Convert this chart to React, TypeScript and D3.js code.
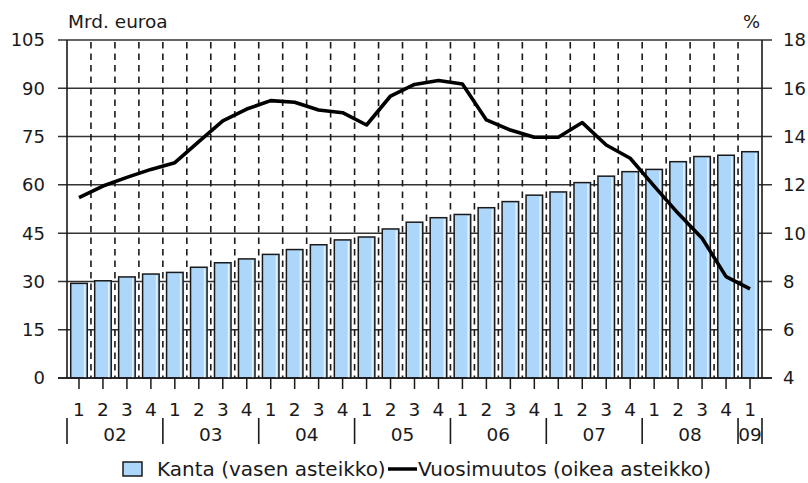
import React from "react";
import * as d3 from "d3";

const quarters = [
  "1","2","3","4","1","2","3","4","1","2","3","4","1","2","3","4",
  "1","2","3","4","1","2","3","4","1","2","3","4","1",
];
const years = ["02","03","04","05","06","07","08","09"];
const yearQuarterCounts = [4,4,4,4,4,4,4,1];

// Kanta, Mrd. euroa (left scale)
const kanta = [
  29.4, 30.2, 31.4, 32.3, 32.8, 34.4, 35.8, 37.0,
  38.4, 39.9, 41.4, 42.9, 43.8, 46.3, 48.4, 49.8,
  50.8, 52.9, 54.8, 56.8, 57.8, 60.7, 62.7, 64.1,
  64.8, 67.2, 68.8, 69.2, 70.3,
];
// Vuosimuutos, % (right scale)
const vuosimuutos = [
  11.47, 11.95, 12.31, 12.64, 12.92, 13.79, 14.65, 15.14,
  15.49, 15.42, 15.10, 14.99, 14.48, 15.68, 16.16, 16.32,
  16.18, 14.69, 14.27, 13.97, 13.97, 14.58, 13.65, 13.10,
  11.95, 10.82, 9.79, 8.20, 7.69,
];
const leftTicks = [0, 15, 30, 45, 60, 75, 90, 105];
const rightTicks = [4, 6, 8, 10, 12, 14, 16, 18];

const W = 808;
const H = 483;
const X0 = 67;
const X1 = 762;
const Y0 = 378;
const Y1 = 40;
const FONT = "DejaVu Sans, sans-serif";
const INK = "#1a1a1a";

export default function App() {
  const idx = kanta.map((_, i) => i);
  const x = d3.scaleBand<number>().domain(idx).range([X0, X1]).paddingInner(0.31).paddingOuter(0.155);
  const step = x.step();
  const yL = d3.scaleLinear().domain([0, 105]).range([Y0, Y1]);
  const yR = d3.scaleLinear().domain([4, 18]).range([Y0, Y1]);
  const cx = (i: number) => (x(i) as number) + x.bandwidth() / 2;

  const line = d3
    .line<number>()
    .x((_, i) => cx(i))
    .y((d) => yR(d))
    .curve(d3.curveLinear);

  let acc = 0;
  const yearSpans = years.map((yy, k) => {
    const start = acc;
    acc += yearQuarterCounts[k];
    return { label: yy, x0: X0 + start * step, x1: X0 + acc * step };
  });

  return (
    <svg
      width={W}
      height={H}
      style={{ position: "absolute", left: 0, top: 0, background: "#fff", display: "block" }}
      fontFamily={FONT}
    >
      <rect x={0} y={0} width={W} height={H} fill="#fff" />
      {leftTicks.map((t) => (
        <line key={"g" + t} x1={X0 - 9} x2={X1 + 10} y1={yL(t)} y2={yL(t)} stroke="#333" strokeWidth={1.5} />
      ))}
      {idx.slice(0, -1).map((i) => (
        <line
          key={"v" + i}
          x1={X0 + step * (i + 1)}
          x2={X0 + step * (i + 1)}
          y1={Y1 + 2}
          y2={Y0}
          stroke={INK}
          strokeWidth={1.6}
          strokeDasharray="6.5,5"
        />
      ))}
      {kanta.map((v, i) => {
        const bx = x(i) as number;
        const bw = x.bandwidth();
        return (
          <g key={"b" + i}>
            <rect x={bx} y={yL(v)} width={bw} height={Y0 - yL(v)} fill="#acd6fa" stroke={INK} strokeWidth={1.5} />
            <line x1={bx + bw - 2.5} x2={bx + bw - 2.5} y1={yL(v) + 1.5} y2={Y0} stroke="#e2f1fe" strokeWidth={1.5} />
          </g>
        );
      })}
      <line x1={X0} x2={X0} y1={Y1} y2={Y0} stroke={INK} strokeWidth={1.6} />
      <line x1={X1} x2={X1} y1={Y1} y2={Y0} stroke={INK} strokeWidth={1.6} />
      <line x1={X0 - 9} x2={X1 + 10} y1={Y0} y2={Y0} stroke={INK} strokeWidth={1.6} />
      {idx.map((i) => (
        <line key={"t" + i} x1={cx(i)} x2={cx(i)} y1={Y0} y2={Y0 + 11} stroke={INK} strokeWidth={1.5} />
      ))}
      <path d={line(vuosimuutos) || ""} fill="none" stroke="#000" strokeWidth={3.6} strokeLinejoin="round" />
      {leftTicks.map((t) => (
        <text key={"l" + t} x={45} y={yL(t)} dy="0.36em" textAnchor="end" fontSize={18} fill={INK}>
          {t}
        </text>
      ))}
      {rightTicks.map((t) => (
        <text key={"r" + t} x={783} y={yR(t)} dy="0.36em" textAnchor="start" fontSize={18} fill={INK}>
          {t}
        </text>
      ))}
      <text x={68} y={28} fontSize={18.5} fill={INK}>Mrd. euroa</text>
      <text x={760} y={28} fontSize={18} textAnchor="end" fill={INK}>%</text>
      {quarters.map((q, i) => (
        <text key={"q" + i} x={cx(i)} y={409} dy="0.36em" textAnchor="middle" fontSize={18.5} fill={INK}>
          {q}
        </text>
      ))}
      {yearSpans.map((s, k) => (
        <g key={"y" + k}>
          <line x1={s.x0} x2={s.x0} y1={418} y2={444} stroke={INK} strokeWidth={1.6} />
          <text x={(s.x0 + s.x1) / 2} y={434.5} dy="0.36em" textAnchor="middle" fontSize={18.5} fill={INK}>
            {s.label}
          </text>
        </g>
      ))}
      <line x1={X1} x2={X1} y1={418} y2={444} stroke={INK} strokeWidth={1.6} />
      <rect x={123} y={462} width={19} height={14} fill="#acd6fa" stroke={INK} strokeWidth={1.5} />
      <text x={157} y={469} dy="0.36em" fontSize={20} fill={INK}>Kanta (vasen asteikko)</text>
      <line x1={388} x2={417} y1={469} y2={469} stroke="#000" strokeWidth={3.5} />
      <text x={418} y={469} dy="0.36em" fontSize={20} fill={INK}>Vuosimuutos (oikea asteikko)</text>
    </svg>
  );
}
